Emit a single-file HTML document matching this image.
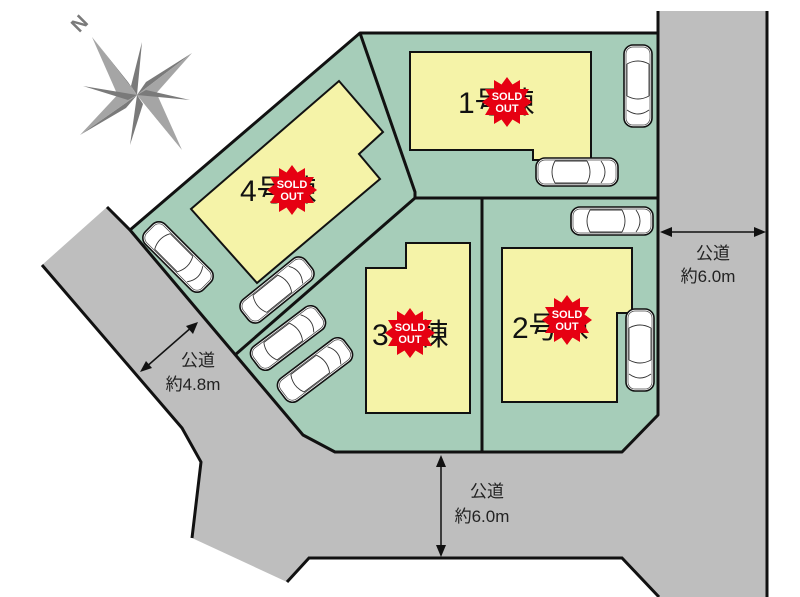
<!DOCTYPE html>
<html><head><meta charset="utf-8"><style>
html,body{margin:0;padding:0;background:#fff}
svg{display:block}
text{font-family:"Liberation Sans","Noto Sans CJK JP",sans-serif}
</style></head><body>
<svg width="800" height="597" viewBox="0 0 800 597" xmlns="http://www.w3.org/2000/svg">
<defs>
<g id="car">
<rect x="-41" y="-14" width="82" height="28" rx="9" fill="#fff" stroke="#111" stroke-width="1.6"/>
<rect x="-39" y="-12" width="78" height="24" rx="7" fill="none" stroke="#444" stroke-width="0.7"/>
<path d="M-22,-11 Q-28,0 -22,11 M10,-11 Q16,0 10,11 M-22,-11 L10,-11 M-22,11 L10,11 M24,-11 Q32,0 24,11" fill="none" stroke="#333" stroke-width="0.9"/>
</g>
<g id="sold">
<polygon points="0,-25 5.5,-17.5 13,-22 13,-13 22,-13 17.5,-5.5 25,0 17.5,5.5 22,13 13,13 13,22 5.5,17.5 0,25 -5.5,17.5 -13,22 -13,13 -22,13 -17.5,5.5 -25,0 -17.5,-5.5 -22,-13 -13,-13 -13,-22 -5.5,-17.5" fill="#e60012"/>
</g>
</defs>
<polygon points="658,11 767,11 767,597 659,597 622,558 309,558 287,582 192,538 201,462 182,428 42,265 107,207 130,230 303,435 335,452 622,452 658,415" fill="#bebebe"/>
<polygon points="130,230 360,33 658,33 658,415 622,452 335,452 303,435" fill="#a6cdb9" stroke="#111" stroke-width="3" stroke-linejoin="round"/>
<g stroke="#111" stroke-width="3" fill="none">
<polyline points="658,11 658,33"/>
<polyline points="767,11 767,597"/>
<polyline points="107,207 130,230"/>
<polyline points="42,265 182,428 201,462 192,538"/>
<polyline points="287,582 309,558 622,558 659,597"/>
<polyline points="360,33 415,192 415,198 658,198"/>
<polyline points="415,198 235,355"/>
<polyline points="482,198 482,452"/>
</g>
<g fill="#f5f3a8" stroke="#111" stroke-width="2">
<polygon points="191,209 339,81 383,132 359,154 380,179 257,283"/>
<polygon points="410,52 591,52 591,160 533,160 533,150 410,150"/>
<polygon points="366,268 406,268 406,243 470,243 470,413 366,413"/>
<polygon points="502,248 632,248 632,313 617,313 617,402 502,402"/>
</g>
<use href="#car" transform="translate(638,86) rotate(90)"/>
<use href="#car" transform="translate(577,172)"/>
<use href="#car" transform="translate(612,221)"/>
<use href="#car" transform="translate(640,350) rotate(90)"/>
<use href="#car" transform="translate(178,257) rotate(45)"/>
<use href="#car" transform="translate(277,290) rotate(-39)"/>
<use href="#car" transform="translate(288,338) rotate(-37)"/>
<use href="#car" transform="translate(315,370) rotate(-37)"/>
<g font-size="30" fill="#111">
<text x="458" y="113">1号棟</text>
<text x="240" y="201">4号棟</text>
<text x="372" y="345">3号棟</text>
<text x="512" y="338">2号棟</text>
</g>
<g font-size="11" font-weight="bold" fill="#fff" text-anchor="middle">
<use href="#sold" transform="translate(507,102)"/><text x="507" y="100">SOLD</text><text x="507" y="112">OUT</text>
<use href="#sold" transform="translate(292,190)"/><text x="292" y="188">SOLD</text><text x="292" y="200">OUT</text>
<use href="#sold" transform="translate(410,333)"/><text x="410" y="331">SOLD</text><text x="410" y="343">OUT</text>
<use href="#sold" transform="translate(567,320)"/><text x="567" y="318">SOLD</text><text x="567" y="330">OUT</text>
</g>
<g fill="#7a7a7a">
<polygon points="137,95 92,37 128,82"/><polygon points="137,95 92,37 118,96" fill="#a5a5a5"/>
<polygon points="137,95 192,53 146,82"/><polygon points="137,95 192,53 152,98" fill="#a5a5a5"/>
<polygon points="137,95 182,150 148,108"/><polygon points="137,95 182,150 156,92" fill="#a5a5a5"/>
<polygon points="137,95 80,135 126,108"/><polygon points="137,95 80,135 122,90" fill="#a5a5a5"/>
<polygon points="137,95 142,42 131,86"/><polygon points="137,95 190,100 146,90"/>
<polygon points="137,95 130,145 143,104"/><polygon points="137,95 83,86 128,100"/>
</g>
<text x="80" y="30" font-size="20" font-weight="bold" fill="#7a7a7a" transform="rotate(-45 80 24)" text-anchor="middle">N</text>
<g stroke="#111" stroke-width="1.5" fill="#111">
<line x1="666" y1="232" x2="760" y2="232"/>
<polygon points="660,232 672,227 672,237" stroke="none"/><polygon points="766,232 754,227 754,237" stroke="none"/>
<line x1="441" y1="461" x2="441" y2="551"/>
<polygon points="441,455 436,467 446,467" stroke="none"/><polygon points="441,557 436,545 446,545" stroke="none"/>
<line x1="145" y1="368" x2="193" y2="326"/>
<polygon points="140,372 146,361 152,368" stroke="none"/><polygon points="198,322 186,326 193,334" stroke="none"/>
</g>
<g font-size="17" fill="#222" text-anchor="middle">
<text x="713" y="259">公道</text><text x="708" y="282">約6.0m</text>
<text x="487" y="497">公道</text><text x="482" y="522">約6.0m</text>
<text x="198" y="366">公道</text><text x="193" y="390">約4.8m</text>
</g>
</svg>
</body></html>
